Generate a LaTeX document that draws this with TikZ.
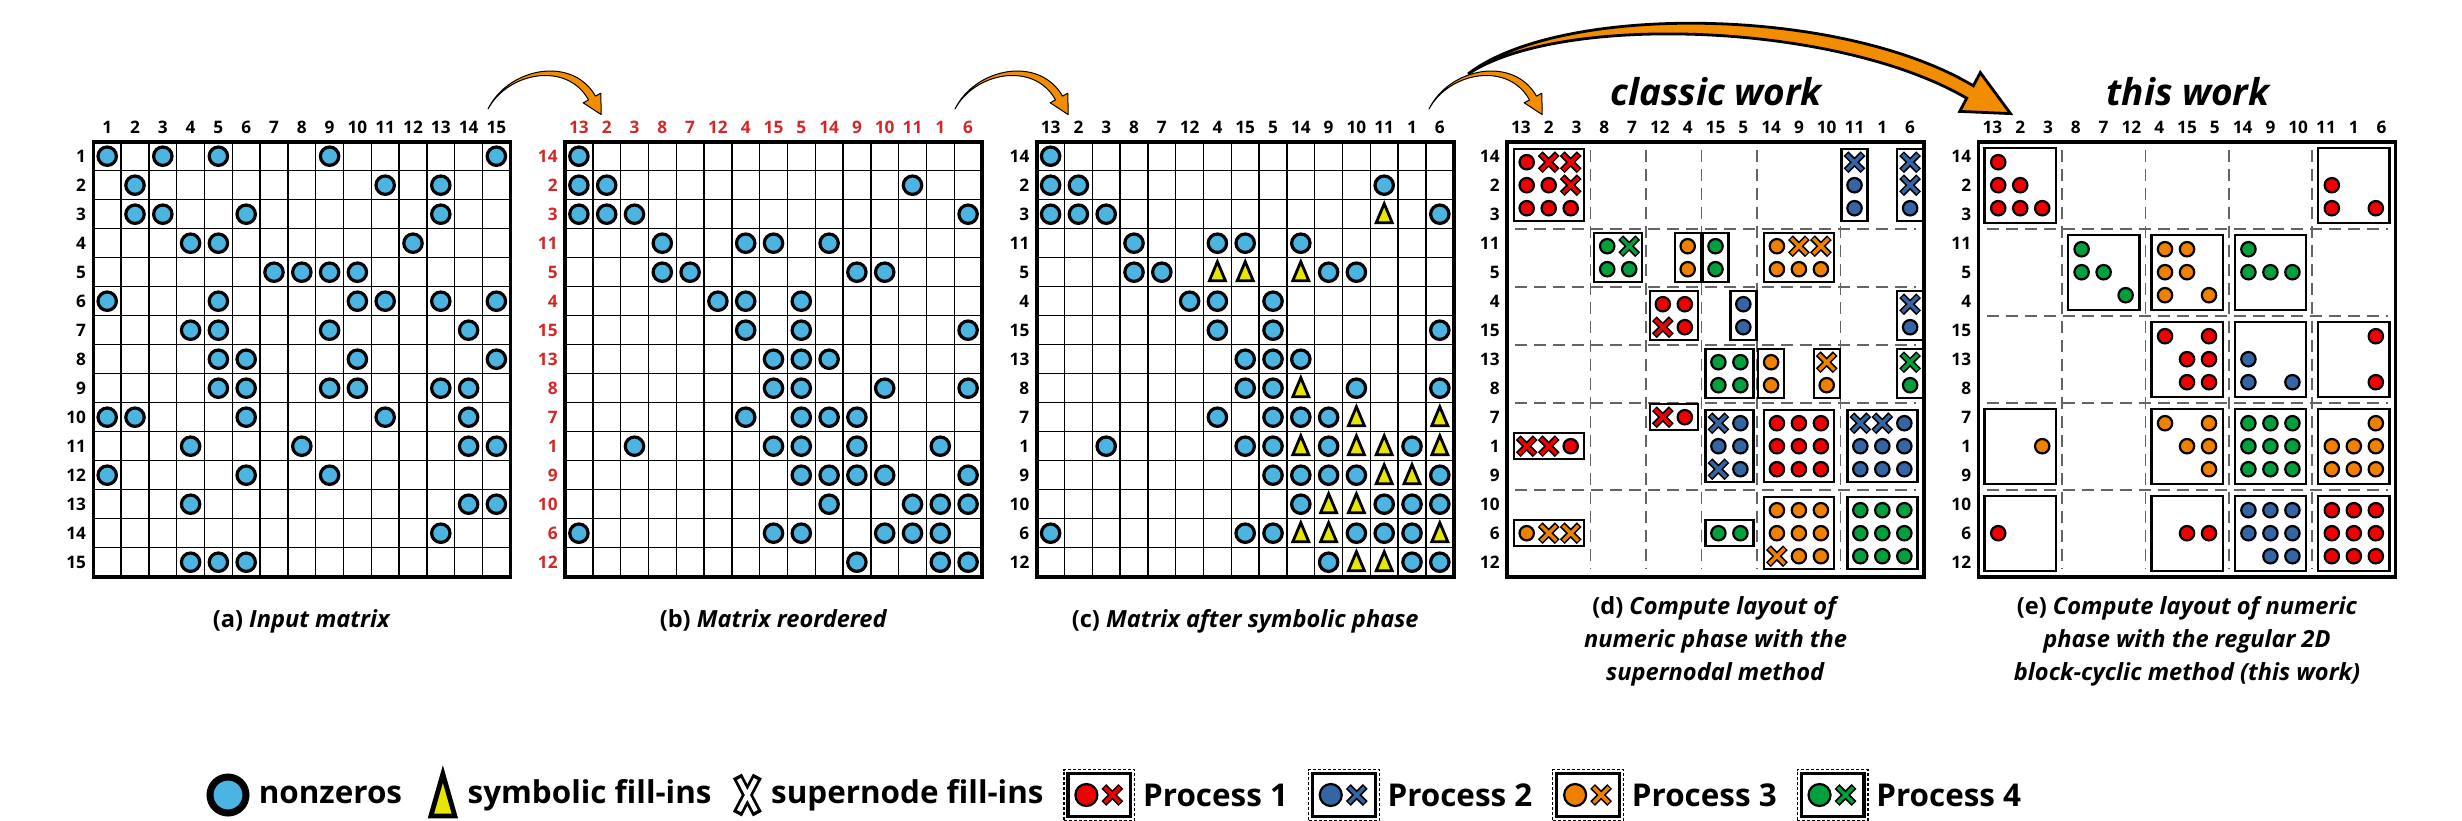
\documentclass[tikz,border=0pt]{standalone}
\usepackage{fontspec}
\setmainfont{Open Sans}
\usetikzlibrary{calc,positioning}

\definecolor{nzblue}{RGB}{75,180,224}
\definecolor{fillyel}{RGB}{230,230,0}
\definecolor{procred}{RGB}{240,0,0}
\definecolor{procblue}{RGB}{52,101,164}
\definecolor{procorange}{RGB}{240,128,0}
\definecolor{procgreen}{RGB}{0,160,60}
\definecolor{labred}{RGB}{210,40,40}
\definecolor{arroworange}{RGB}{242,140,0}
\definecolor{sepgray}{RGB}{100,100,100}

% cell size and matrix origins, in pixels
\def\cellw{27.8}
\def\cellh{29}
\def\mtop{141.7}
\def\mxa{93.3}
\def\mxb{565}
\def\mxc{1036.7}
\def\mxd{1507}
\def\mxe{1978.5}
\def\dotpx{22}
\def\dotpy{23}

% nonzeros of the reordered matrix: row/{columns}
\def\nzb{1/{1},2/{1,2,13},3/{1,2,3,15},4/{4,7,8,10},5/{4,5,11,12},6/{6,7,9},7/{7,9,15},8/{8,9,10},9/{8,9,12,15},10/{7,9,10,11},11/{3,8,9,11,14},12/{9,10,11,12,15},13/{10,13,14,15},14/{1,8,9,12,13,14},15/{11,14,15}}

\newcommand\mgrid[1]{%
  \foreach \k in {1,...,14} {
    \draw[gridline] ({#1+\k*\cellw},\mtop) -- ({#1+\k*\cellw},{\mtop+15*\cellh});
    \draw[gridline] (#1,{\mtop+\k*\cellh}) -- ({#1+15*\cellw},{\mtop+\k*\cellh});
  }}
\newcommand\mlabels[5]{%
  \foreach \lb [count=\i] in {#3}
    \node[clab, text=#5] (#2-c\i) at ({#1+(\i-0.5)*\cellw},127) {\lb};
  \foreach \lb [count=\i] in {#4}
    \node[rlab, text=#5] (#2-r\i) at ({#1-7},{\mtop+(\i-0.5)*\cellh}) {\lb};}
\newcommand\nzat[3]{\draw[nzmark] ({#1+(#2-0.5)*\cellw},{\mtop+(#3-0.5)*\cellh}) circle[radius=4.6pt];}
\newcommand\symat[3]{%
  \pgfmathsetmacro\tx{#1+(#2-0.5)*\cellw}
  \pgfmathsetmacro\ty{\mtop+(#3-0.5)*\cellh}
  \draw[trimark] (\tx,{\ty-10.5}) -- ({\tx+8},{\ty+8.5}) -- ({\tx-8},{\ty+8.5}) -- cycle;}
\newcommand\pdot[3]{\draw[pdotst, fill=#3] ({#1},{#2}) circle[radius=3.6pt];}
\newcommand\pcross[3]{%
  \draw[line width=3.4pt] ({#1-8.5},{#2-8.5}) -- ({#1+8.5},{#2+8.5}) ({#1+8.5},{#2-8.5}) -- ({#1-8.5},{#2+8.5});
  \draw[line width=1.7pt, #3] ({#1-7.6},{#2-7.6}) -- ({#1+7.6},{#2+7.6}) ({#1+7.6},{#2-7.6}) -- ({#1-7.6},{#2+7.6});}
% supernodal block: first col, cols, first row, rows, colour, entries row/col/kind
\newcommand\dblock[6]{%
  \pgfmathsetmacro\bx{\mxd+(#1-1+#2/2)*\cellw}
  \pgfmathsetmacro\by{\mtop+(#3-1+#4/2)*\cellh}
  \pgfmathsetmacro\bw{(#2-1)/2*\dotpx+13}
  \pgfmathsetmacro\bh{(#4-1)/2*\dotpy+13}
  \draw[blockbox] ({\bx-\bw},{\by-\bh}) rectangle ({\bx+\bw},{\by+\bh});
  \foreach \i/\j/\kind in {#6} {
    \pgfmathsetmacro\dx{\bx+(\j-(#2+1)/2)*\dotpx}
    \pgfmathsetmacro\dy{\by+(\i-(#4+1)/2)*\dotpy}
    \if\kind o\pdot{\dx}{\dy}{#5}\else\pcross{\dx}{\dy}{#5}\fi
  }}
% regular 3x3 block: block col, block row, colour, entries row/col
\newcommand\eblock[4]{%
  \pgfmathsetmacro\bx{\mxe+(#1-0.5)*3*\cellw}
  \pgfmathsetmacro\by{\mtop+(#2-0.5)*3*\cellh}
  \draw[blockbox] ({\bx-1.5*\cellw+6},{\by-1.5*\cellh+6}) rectangle ({\bx+1.5*\cellw-6},{\by+1.5*\cellh-6});
  \foreach \i/\j in {#4} {\pdot{\bx+(\j-2)*\dotpx}{\by+(\i-2)*\dotpy}{#3}}}

\begin{document}
\begin{tikzpicture}[x=0.5pt, y=-0.5pt,
  gridline/.style={line width=0.7pt},
  mborder/.style={line width=1.8pt},
  nzmark/.style={draw, line width=1.6pt, fill=nzblue},
  trimark/.style={draw, line width=1.4pt, fill=fillyel},
  pdotst/.style={draw, line width=1.1pt},
  blockbox/.style={draw, line width=1.2pt, fill=white},
  sepline/.style={sepgray, line width=0.8pt, dash pattern=on 6pt off 3.5pt},
  clab/.style={font=\fontsize{8.6}{10}\selectfont\bfseries, inner sep=0pt},
  rlab/.style={clab, anchor=east},
  caption/.style={font=\fontsize{11.8}{16.5}\selectfont\bfseries, align=center, anchor=north, inner sep=0pt},
  worklab/.style={font=\fontsize{18.5}{21}\selectfont\bfseries\itshape},
  legtxt/.style={font=\fontsize{15.7}{18}\selectfont\bfseries, inner sep=0pt},
  legicon/.style={minimum height=24pt, inner sep=0pt},
  smallarrow/.style={fill=arroworange, draw=black, line width=0.5pt, line join=round},
  bigarrow/.style={fill=arroworange, draw=black, line width=1.4pt, line join=miter}]
\useasboundingbox (0,0) rectangle (2462,820);

% (a) input matrix
\mgrid{\mxa}
\draw[mborder] (\mxa,\mtop) rectangle ({\mxa+15*\cellw},{\mtop+15*\cellh});
\mlabels{\mxa}{a}{1,...,15}{1,...,15}{black}
\foreach \rw/\cl in {1/{1,3,5,9,15},2/{2,11,13},3/{2,3,6,13},4/{4,5,12},5/{7,8,9,10},6/{1,5,10,11,13,15},7/{4,5,9,14},8/{5,6,10,15},9/{5,6,9,10,13,14},10/{1,2,6,11,14},11/{4,8,14,15},12/{1,6,9},13/{4,14,15},14/{13},15/{4,5,6}}
  \foreach \cn in \cl {\nzat{\mxa}{\cn}{\rw}}

% (b) reordered
\mgrid{\mxb}
\draw[mborder] (\mxb,\mtop) rectangle ({\mxb+15*\cellw},{\mtop+15*\cellh});
\mlabels{\mxb}{b}{13,2,3,8,7,12,4,15,5,14,9,10,11,1,6}{14,2,3,11,5,4,15,13,8,7,1,9,10,6,12}{labred}
\foreach \rw/\cl in \nzb
  \foreach \cn in \cl {\nzat{\mxb}{\cn}{\rw}}

% (c) after symbolic phase
\mgrid{\mxc}
\draw[mborder] (\mxc,\mtop) rectangle ({\mxc+15*\cellw},{\mtop+15*\cellh});
\mlabels{\mxc}{c}{13,2,3,8,7,12,4,15,5,14,9,10,11,1,6}{14,2,3,11,5,4,15,13,8,7,1,9,10,6,12}{black}
\foreach \rw/\cl in \nzb
  \foreach \cn in \cl {\nzat{\mxc}{\cn}{\rw}}
\foreach \rw/\cl in {3/{13},5/{7,8,10},9/{10},10/{12,15},11/{10,12,13,15},12/{13,14},13/{11,12},14/{10,11,15},15/{12,13}}
  \foreach \cn in \cl {\symat{\mxc}{\cn}{\rw}}

% (d) supernodal layout
\mlabels{\mxd}{d}{13,2,3,8,7,12,4,15,5,14,9,10,11,1,6}{14,2,3,11,5,4,15,13,8,7,1,9,10,6,12}{black}
\foreach \k in {3,5,7,9,12} {
  \draw[sepline] ({\mxd+\k*\cellw},{\mtop+8}) -- ({\mxd+\k*\cellw},{\mtop+15*\cellh-8});
  \draw[sepline] ({\mxd+8},{\mtop+\k*\cellh}) -- ({\mxd+15*\cellw-8},{\mtop+\k*\cellh});
}
\dblock{1}{3}{1}{3}{procred}{1/1/o,1/2/x,1/3/x,2/1/o,2/2/o,2/3/x,3/1/o,3/2/o,3/3/o}
\dblock{13}{1}{1}{3}{procblue}{1/1/x,2/1/o,3/1/o}
\dblock{15}{1}{1}{3}{procblue}{1/1/x,2/1/x,3/1/o}
\dblock{4}{2}{4}{2}{procgreen}{1/1/o,1/2/x,2/1/o,2/2/o}
\dblock{7}{1}{4}{2}{procorange}{1/1/o,2/1/o}
\dblock{8}{1}{4}{2}{procgreen}{1/1/o,2/1/o}
\dblock{10}{3}{4}{2}{procorange}{1/1/o,1/2/x,1/3/x,2/1/o,2/2/o,2/3/o}
\dblock{6}{2}{6}{2}{procred}{1/1/o,1/2/o,2/1/x,2/2/o}
\dblock{9}{1}{6}{2}{procblue}{1/1/o,2/1/o}
\dblock{15}{1}{6}{2}{procblue}{1/1/x,2/1/o}
\dblock{8}{2}{8}{2}{procgreen}{1/1/o,1/2/o,2/1/o,2/2/o}
\dblock{10}{1}{8}{2}{procorange}{1/1/o,2/1/o}
\dblock{12}{1}{8}{2}{procorange}{1/1/x,2/1/o}
\dblock{15}{1}{8}{2}{procgreen}{1/1/x,2/1/o}
\dblock{1}{3}{11}{1}{procred}{1/1/x,1/2/x,1/3/o}
\dblock{6}{2}{10}{1}{procred}{1/1/x,1/2/o}
\dblock{8}{2}{10}{3}{procblue}{1/1/x,1/2/o,2/1/o,2/2/o,3/1/x,3/2/o}
\dblock{10}{3}{10}{3}{procred}{1/1/o,1/2/o,1/3/o,2/1/o,2/2/o,2/3/o,3/1/o,3/2/o,3/3/o}
\dblock{13}{3}{10}{3}{procblue}{1/1/x,1/2/x,1/3/o,2/1/o,2/2/o,2/3/o,3/1/o,3/2/o,3/3/o}
\dblock{1}{3}{14}{1}{procorange}{1/1/o,1/2/x,1/3/x}
\dblock{8}{2}{14}{1}{procgreen}{1/1/o,1/2/o}
\dblock{10}{3}{13}{3}{procorange}{1/1/o,1/2/o,1/3/o,2/1/o,2/2/o,2/3/o,3/1/x,3/2/o,3/3/o}
\dblock{13}{3}{13}{3}{procgreen}{1/1/o,1/2/o,1/3/o,2/1/o,2/2/o,2/3/o,3/1/o,3/2/o,3/3/o}
\draw[mborder] (\mxd,\mtop) rectangle ({\mxd+15*\cellw},{\mtop+15*\cellh});

% (e) regular 2D block-cyclic layout
\mlabels{\mxe}{e}{13,2,3,8,7,12,4,15,5,14,9,10,11,1,6}{14,2,3,11,5,4,15,13,8,7,1,9,10,6,12}{black}
\foreach \k in {3,6,9,12} {
  \draw[sepline] ({\mxe+\k*\cellw},{\mtop+8}) -- ({\mxe+\k*\cellw},{\mtop+15*\cellh-8});
  \draw[sepline] ({\mxe+8},{\mtop+\k*\cellh}) -- ({\mxe+15*\cellw-8},{\mtop+\k*\cellh});
}
\eblock{1}{1}{procred}{1/1,2/1,2/2,3/1,3/2,3/3}
\eblock{5}{1}{procred}{2/1,3/1,3/3}
\eblock{2}{2}{procgreen}{1/1,2/1,2/2,3/3}
\eblock{3}{2}{procorange}{1/1,1/2,2/1,2/2,3/1,3/3}
\eblock{4}{2}{procgreen}{1/1,2/1,2/2,2/3}
\eblock{3}{3}{procred}{1/1,1/3,2/2,2/3,3/2,3/3}
\eblock{4}{3}{procblue}{2/1,3/1,3/3}
\eblock{5}{3}{procred}{1/3,3/3}
\eblock{1}{4}{procorange}{2/3}
\eblock{3}{4}{procorange}{1/1,1/3,2/2,2/3,3/3}
\eblock{4}{4}{procgreen}{1/1,1/2,1/3,2/1,2/2,2/3,3/1,3/2,3/3}
\eblock{5}{4}{procorange}{1/3,2/1,2/2,2/3,3/1,3/2,3/3}
\eblock{1}{5}{procred}{2/1}
\eblock{3}{5}{procred}{2/2,2/3}
\eblock{4}{5}{procblue}{1/1,1/2,1/3,2/1,2/2,2/3,3/2,3/3}
\eblock{5}{5}{procred}{1/1,1/2,1/3,2/1,2/2,2/3,3/1,3/2,3/3}
\draw[mborder] (\mxe,\mtop) rectangle ({\mxe+15*\cellw},{\mtop+15*\cellh});

% arrows between the steps
\foreach \sh in {0,467,941}
  \filldraw[smallarrow, shift={(\sh,0)}] (488,109) .. controls (508,68) and (572,55) .. (595.5,96.1) -- (600.8,93.2) -- (601.2,114.6) -- (583.2,102.8) -- (588.5,99.9) .. controls (567,61) and (508,72) .. (488,109) -- cycle;
\filldraw[bigarrow] (1468,74) .. controls (1560,3) and (1840,6) .. (1973.3,85.8) -- (1980.3,72.6) -- (2010.5,113.6) -- (1959.7,111.4) -- (1966.7,98.2) .. controls (1836,22) and (1560,13) .. (1468,74) -- cycle;

\node[worklab] (classic) at (1716,92) {classic work};
\node[worklab] (thiswork) at (2188,92) {this work};

% captions
\node[caption] (cap-a) at (301.8,609) {(a)~\textit{Input matrix}};
\node[caption] (cap-b) at (773.5,609) {(b)~\textit{Matrix reordered}};
\node[caption] (cap-c) at (1245.2,609) {(c)~\textit{Matrix after symbolic phase}};
\node[caption] (cap-d) at (1715.5,596) {(d)~\textit{Compute layout of}\\\textit{numeric phase with the}\\\textit{supernodal method}};
\node[caption] (cap-e) at (2187,596) {(e)~\textit{Compute layout of numeric}\\\textit{phase with the regular 2D}\\\textit{block-cyclic method (this work)}};

% legend
\node[legicon, minimum width=22pt] (lg-nz) at (228,795) {};
\draw[line width=3.5pt, fill=nzblue] (lg-nz.center) circle[radius=9pt];
\node[legtxt, right=4pt of lg-nz] (lg-nztxt) {nonzeros};
\node[legicon, minimum width=16pt, right=12pt of lg-nztxt] (lg-sym) {};
\draw[line width=2.4pt, fill=fillyel] ($(lg-sym.center)+(0,-21)$) -- ($(lg-sym.center)+(12,21)$) -- ($(lg-sym.center)+(-12,21)$) -- cycle;
\node[legtxt, right=4pt of lg-sym] (lg-symtxt) {symbolic fill-ins};
\node[legicon, minimum width=15pt, right=10pt of lg-symtxt] (lg-sn) {};
\draw[line width=5pt] ($(lg-sn.center)+(-10,-19)$) -- ($(lg-sn.center)+(10,19)$) ($(lg-sn.center)+(10,-19)$) -- ($(lg-sn.center)+(-10,19)$);
\draw[line width=2.2pt, white] ($(lg-sn.center)+(-8.4,-16)$) -- ($(lg-sn.center)+(8.4,16)$) ($(lg-sn.center)+(8.4,-16)$) -- ($(lg-sn.center)+(-8.4,16)$);
\node[legtxt, right=4pt of lg-sn] (lg-sntxt) {supernode fill-ins};
\foreach \k/\pc/\prev in {1/procred/lg-sntxt,2/procblue/lg-p1txt,3/procorange/lg-p2txt,4/procgreen/lg-p3txt} {
  \node[legicon, minimum width=35pt, minimum height=25pt, right=10pt of \prev] (lg-p\k) {};
  \draw[dash pattern=on 1.5pt off 1pt, line width=0.6pt] (lg-p\k.south west) rectangle (lg-p\k.north east);
  \draw[line width=1.6pt, fill=white] ($(lg-p\k.south west)+(4,-4)$) rectangle ($(lg-p\k.north east)+(-4,4)$);
  \draw[pdotst, fill=\pc] ($(lg-p\k.center)+(-13,0)$) circle[radius=5.5pt];
  \begin{scope}[shift={(lg-p\k.center)}]
    \pcross{13}{0}{\pc}
  \end{scope}
  \node[legtxt, right=4pt of lg-p\k] (lg-p\k txt) {Process \k};
}
\end{tikzpicture}
\end{document}
